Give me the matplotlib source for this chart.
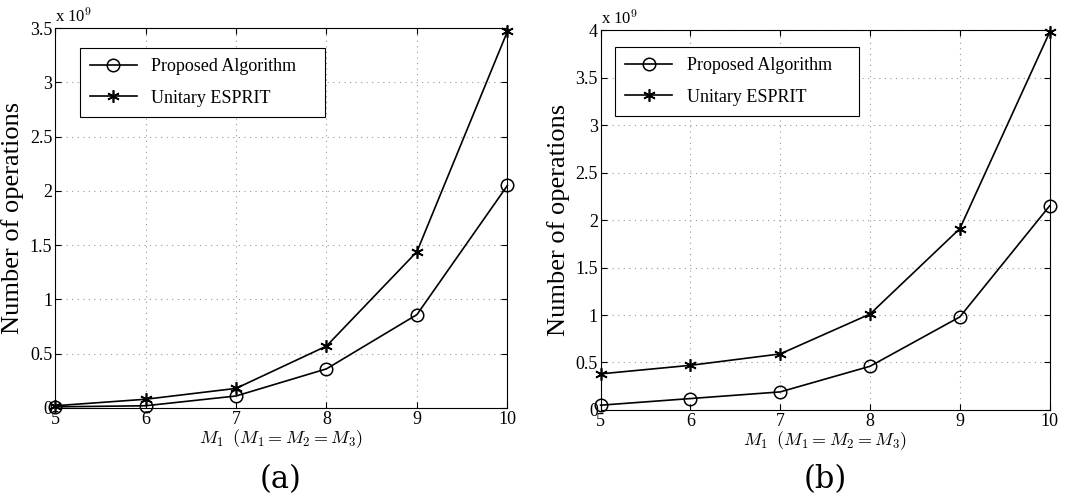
import matplotlib.pyplot as plt

plt.rcParams['font.family'] = ['Liberation Serif', 'DejaVu Serif']
plt.rcParams['mathtext.fontset'] = 'cm'

m1 = [5, 6, 7, 8, 9, 10]

# values in units of 1e9 operations
proposed_a = [0.01, 0.02, 0.11, 0.36, 0.86, 2.05]
unitary_a = [0.02, 0.08, 0.18, 0.57, 1.44, 3.47]

proposed_b = [0.05, 0.12, 0.19, 0.46, 0.98, 2.15]
unitary_b = [0.38, 0.47, 0.59, 1.01, 1.91, 3.98]

yticks_a = [0, 0.5, 1, 1.5, 2, 2.5, 3, 3.5]
yticks_b = [0, 0.5, 1, 1.5, 2, 2.5, 3, 3.5, 4]

fig = plt.figure(figsize=(10.9, 5.03), dpi=100)
ax_a = fig.add_axes([0.0505, 0.189, 0.415, 0.755])
ax_b = fig.add_axes([0.551, 0.185, 0.412, 0.755])

asterisk = (6, 2, 0)

panels = [
    (ax_a, proposed_a, unitary_a, yticks_a, 3.5, '(a)', 0.2575, (0.055, 0.947)),
    (ax_b, proposed_b, unitary_b, yticks_b, 4.0, '(b)', 0.757, (0.033, 0.955)),
]

for ax, prop, uni, yt, ymax, tag, xc, lpos in panels:
    ax.plot(m1, prop, color='black', lw=1.2, marker='o', markersize=9,
            markerfacecolor='none', markeredgewidth=1.1, label='Proposed Algorithm',
            clip_on=False, zorder=3)
    ax.plot(m1, uni, color='black', lw=1.2, marker=asterisk, markersize=9,
            markeredgewidth=1.2, label='Unitary ESPRIT', clip_on=False, zorder=3)
    ax.set_xlim(5, 10)
    ax.set_ylim(0, ymax)
    ax.set_xticks(m1)
    ax.set_yticks(yt)
    ax.set_yticklabels([('%g' % v) for v in yt])
    ax.tick_params(direction='in', length=4, labelsize=13, top=True, right=True, pad=2)
    ax.grid(True, linestyle=(0, (1, 4)), color='#999999', lw=0.8)
    for sp in ax.spines.values():
        sp.set_linewidth(0.8)
    ax.set_ylabel('Number of operations', fontsize=19, labelpad=4)
    ax.set_xlabel(r'$M_1\;\;(M_1 = M_2 = M_3)$', fontsize=13, labelpad=0)
    ax.text(0.0, 1.005, r'x 10$^9$', transform=ax.transAxes, fontsize=12,
            ha='left', va='bottom')
    leg = ax.legend(loc='upper left', bbox_to_anchor=(lpos[0], lpos[1], 0.542, 0.0),
                    mode='expand', borderaxespad=0, fontsize=13, fancybox=False,
                    framealpha=1, edgecolor='black', handlelength=2.6,
                    borderpad=0.55, labelspacing=0.8)
    leg.get_frame().set_linewidth(0.8)
    fig.text(xc, 0.015, tag, fontsize=22, ha='center', va='bottom',
             family='DejaVu Serif')

fig.savefig('out.png', dpi=100)
